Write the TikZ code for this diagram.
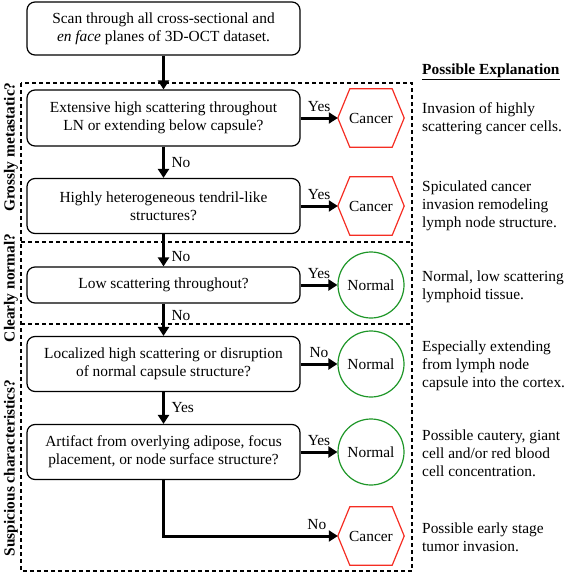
\documentclass[tikz,border=0pt]{standalone}
\usepackage{fontspec}
\setmainfont{Liberation Serif}
\usetikzlibrary{arrows.meta}
\definecolor{cancerred}{RGB}{245,45,35}
\definecolor{normalgreen}{RGB}{30,150,40}
\tikzset{
  base/.style={font=\fontsize{15.4}{18}\selectfont},
  qbox/.style={base, draw, rounded corners=8pt, line width=1.2pt, minimum width=273pt, minimum height=55pt, align=center, inner sep=2pt},
  cancerbox/.style={base, minimum width=66pt, minimum height=58pt, inner sep=0pt},
  hexline/.style={draw=cancerred, line width=1.2pt, line join=miter},
  normalbox/.style={base, circle, draw=normalgreen, line width=1.2pt, minimum size=66pt, inner sep=0pt},
  flow/.style={line width=3pt, -{Triangle[width=11pt,length=9pt]}},
  lbl/.style={base, inner sep=1.5pt},
  expl/.style={base, anchor=west, align=left, inner sep=0pt},
  frame/.style={dash pattern=on 4pt off 3pt, line width=1.1pt},
  side/.style={base, font=\fontsize{15.4}{18}\selectfont\bfseries, rotate=90, inner sep=0pt}
}
\newcommand{\drawhex}[1]{\draw[hexline] (#1.west) -- ([xshift=12pt]#1.north west) -- ([xshift=-12pt]#1.north east) -- (#1.east) -- ([xshift=-12pt]#1.south east) -- ([xshift=12pt]#1.south west) -- cycle;}
\begin{document}
\begin{tikzpicture}[x=1pt,y=-1pt]
\useasboundingbox (0,0) rectangle (567,574);
% frame
\coordinate (ftl) at (21,83);
\coordinate (fbr) at (412,571);
\draw[frame] (ftl) rectangle (fbr);
\coordinate (d1l) at (21,242); \coordinate (d1r) at (412,242);
\coordinate (d2l) at (21,324); \coordinate (d2r) at (412,324);
\draw[frame] (d1l) -- (d1r);
\draw[frame] (d2l) -- (d2r);
% side labels
\node[side] (s1) at (11,147) {Grossly metastatic?};
\node[side] (s2) at (11,288) {Clearly normal?};
\node[side] (s3) at (11,468) {Suspicious characteristics?};
% boxes
\node[qbox, minimum height=53pt] (b1) at (163.5,28.5) {Scan through all cross-sectional and\\\textit{en face} planes of 3D-OCT dataset.};
\node[qbox, minimum height=56pt] (b2) at (163.5,118) {Extensive high scattering throughout\\LN or extending below capsule?};
\node[qbox] (b3) at (163.5,206) {Highly heterogeneous tendril-like\\structures?};
\node[qbox, minimum height=36pt] (b4) at (163.5,285) {Low scattering throughout?};
\node[qbox] (b5) at (163.5,364) {Localized high scattering or disruption\\of normal capsule structure?};
\node[qbox] (b6) at (163.5,452) {Artifact from overlying adipose, focus\\placement, or node surface structure?};
% outcomes
\node[cancerbox] (c1) at (371,118) {Cancer};
\node[cancerbox] (c2) at (371,206) {Cancer};
\node[normalbox] (n1) at (371,285) {Normal};
\node[normalbox] (n2) at (371,364) {Normal};
\node[normalbox] (n3) at (371,452) {Normal};
\node[cancerbox] (c3) at (371,536) {Cancer};
\drawhex{c1}
\drawhex{c2}
\drawhex{c3}
% vertical flow
\draw[flow] (b1.south) -- (b2.north);
\draw[flow] (b2.south) -- node[lbl, right=5pt] {No} (b3.north);
\draw[flow] (b3.south) -- node[lbl, right=5pt, yshift=-6pt] {No} (b4.north);
\draw[flow] (b4.south) -- node[lbl, right=5pt, yshift=4pt] {No} (b5.north);
\draw[flow] (b5.south) -- node[lbl, right=5pt] {Yes} (b6.north);
% horizontal flow
\draw[flow] (b2.east) -- node[lbl, above=3pt] {Yes} (c1.west);
\draw[flow] (b3.east) -- node[lbl, above=3pt] {Yes} (c2.west);
\draw[flow] (b4.east) -- node[lbl, above=3pt] {Yes} (n1.west);
\draw[flow] (b5.east) -- node[lbl, above=3pt] {No} (n2.west);
\draw[flow] (b6.east) -- node[lbl, above=3pt] {Yes} (n3.west);
\draw[flow] (b6.south) |- node[lbl, above=3pt, pos=0.94] {No} (c3.west);
% explanations
\node[base, anchor=west, inner sep=0pt] (ph) at (422,72) {\underline{\textbf{Possible Explanation}}};
\node[expl] (e1) at (422,119) {Invasion of highly\\scattering cancer cells.};
\node[expl] (e2) at (422,206) {Spiculated cancer\\invasion remodeling\\lymph node structure.};
\node[expl] (e3) at (422,287) {Normal, low scattering\\lymphoid tissue.};
\node[expl] (e4) at (422,366) {Especially extending\\from lymph node\\capsule into the cortex.};
\node[expl] (e5) at (422,453) {Possible cautery, giant\\cell and/or red blood\\cell concentration.};
\node[expl] (e6) at (422,537) {Possible early stage\\tumor invasion.};
\end{tikzpicture}
\end{document}
